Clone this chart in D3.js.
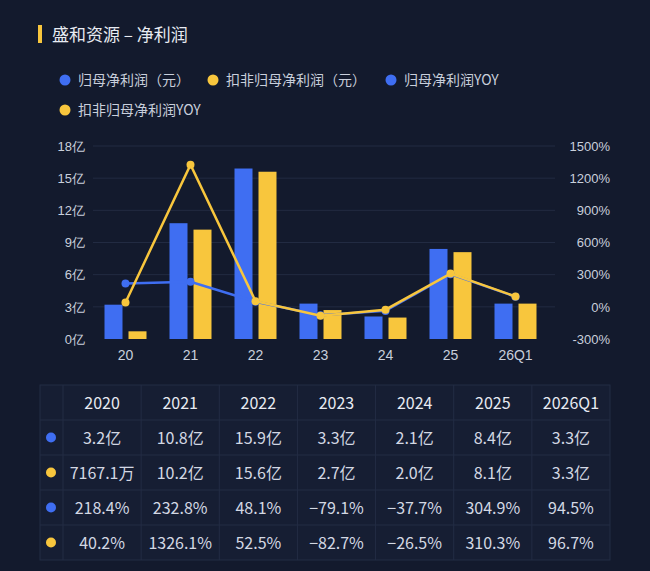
<!DOCTYPE html>
<html><head><meta charset="utf-8">
<script src="https://cdn.jsdelivr.net/npm/d3@7"></script>
<style>
body{margin:0;background:#131a2d;}
svg{display:block;font-family:"Noto Sans CJK SC","Noto Sans",sans-serif;}
</style></head>
<body><svg width="650" height="571"></svg>
<script>
const cats = ["20","21","22","23","24","25","26Q1"];
const years = ["2020","2021","2022","2023","2024","2025","2026Q1"];
const netProfit = [3.2,10.8,15.9,3.3,2.1,8.4,3.3];
const deductProfit = [0.71671,10.2,15.6,2.7,2.0,8.1,3.3];
const netYoy = [218.4,232.8,48.1,-79.1,-37.7,304.9,94.5];
const deductYoy = [40.2,1326.1,52.5,-82.7,-26.5,310.3,96.7];
const row1 = ["3.2亿","10.8亿","15.9亿","3.3亿","2.1亿","8.4亿","3.3亿"];
const row2 = ["7167.1万","10.2亿","15.6亿","2.7亿","2.0亿","8.1亿","3.3亿"];
const row3 = ["218.4%","232.8%","48.1%","-79.1%","-37.7%","304.9%","94.5%"];
const row4 = ["40.2%","1326.1%","52.5%","-82.7%","-26.5%","310.3%","96.7%"];
const leftTicks = [0,3,6,9,12,15,18];
const rightTicks = [-300,0,300,600,900,1200,1500];

const blue = "#3f6ef2", yellow = "#f8c63d", txt = "#c9cfdc";
const svg = d3.select("svg");

svg.append("rect").attr("x",38).attr("y",25).attr("width",4).attr("height",18).attr("fill",yellow);
svg.append("text").attr("x",52).attr("y",41).attr("fill","#e8ebf2").attr("font-size",17).text("盛和资源 – 净利润");

const legend = [
  {t:"归母净利润（元）",c:blue,x:65,y:80},
  {t:"扣非归母净利润（元）",c:yellow,x:213,y:80},
  {t:"归母净利润YOY",c:blue,x:391,y:80},
  {t:"扣非归母净利润YOY",c:yellow,x:65,y:110}];
legend.forEach(l=>{
  svg.append("circle").attr("cx",l.x).attr("cy",l.y).attr("r",5.5).attr("fill",l.c);
  svg.append("text").attr("x",l.x+13).attr("y",l.y+5).attr("fill",txt).attr("font-size",14).text(l.t);
});

const x = d3.scaleBand().domain(cats).range([93,548]);
const yL = d3.scaleLinear().domain([0,18]).range([339,146]);
const yR = d3.scaleLinear().domain([-300,1500]).range([339,146]);

const g = svg.append("g");
g.selectAll(".grid").data(leftTicks.slice(1)).join("line")
  .attr("x1",93).attr("x2",555).attr("y1",d=>yL(d)).attr("y2",d=>yL(d))
  .attr("stroke","#222b42").attr("stroke-width",1);
g.append("g").attr("transform","translate(88,0)")
  .call(d3.axisLeft(yL).tickValues(leftTicks).tickSize(0).tickFormat(d=>d+"亿"))
  .call(a=>a.select(".domain").remove())
  .selectAll("text").attr("fill",txt).attr("font-size",13).attr("font-family","inherit");
g.append("g").attr("transform","translate(613,0)")
  .call(d3.axisLeft(yR).tickValues(rightTicks).tickSize(0).tickFormat(d=>d+"%"))
  .call(a=>a.select(".domain").remove())
  .selectAll("text").attr("fill",txt).attr("font-size",13).attr("font-family","inherit");
g.append("g").attr("transform","translate(0,344)")
  .call(d3.axisBottom(x).tickSize(0))
  .call(a=>a.select(".domain").remove())
  .selectAll("text").attr("fill",txt).attr("font-size",14).attr("dy","0.9em").attr("font-family","inherit");

const bw = 18, cx = d => x(d)+x.bandwidth()/2;
g.selectAll(".b1").data(cats).join("rect")
  .attr("x",d=>cx(d)-bw-3).attr("width",bw)
  .attr("y",(d,i)=>yL(netProfit[i])).attr("height",(d,i)=>yL(0)-yL(netProfit[i])).attr("fill",blue);
g.selectAll(".b2").data(cats).join("rect")
  .attr("x",d=>cx(d)+3).attr("width",bw)
  .attr("y",(d,i)=>yL(deductProfit[i])).attr("height",(d,i)=>yL(0)-yL(deductProfit[i])).attr("fill",yellow);

[[netYoy,blue],[deductYoy,yellow]].forEach(([vals,c])=>{
  const line = d3.line().x((d,i)=>cx(cats[i])).y(d=>yR(d));
  g.append("path").attr("d",line(vals)).attr("fill","none").attr("stroke",c).attr("stroke-width",2.5);
  g.selectAll(null).data(vals).join("circle")
    .attr("cx",(d,i)=>cx(cats[i])).attr("cy",d=>yR(d)).attr("r",4).attr("fill",c);
});

// table
const colX = d3.scaleBand().domain(years).range([63,610]);
const rowY = d3.scaleBand().domain([0,1,2,3,4]).range([385,560]);
const t = svg.append("g");
t.append("rect").attr("x",40).attr("y",385).attr("width",570).attr("height",175).attr("fill","#161e33").attr("stroke","#232c44");
[1,2,3,4].forEach(r=>t.append("line").attr("x1",40).attr("x2",610).attr("y1",rowY(r)).attr("y2",rowY(r)).attr("stroke","#232c44"));
years.forEach(yv=>t.append("line").attr("x1",colX(yv)).attr("x2",colX(yv)).attr("y1",385).attr("y2",560).attr("stroke","#232c44"));
const rows = [years,row1,row2,row3,row4];
const dots = [null,blue,yellow,blue,yellow];
rows.forEach((r,ri)=>{
  const yy = rowY(ri)+rowY.bandwidth()/2;
  if(dots[ri]) t.append("circle").attr("cx",51).attr("cy",yy).attr("r",5).attr("fill",dots[ri]);
  r.forEach((v,ci)=>t.append("text").attr("x",colX(years[ci])+colX.bandwidth()/2).attr("y",yy+6)
    .attr("text-anchor","middle").attr("fill",ri?"#d3d8e3":"#e8ebf2").attr("font-size",16).text(v.replace("-","−")));
});
</script></body></html>
